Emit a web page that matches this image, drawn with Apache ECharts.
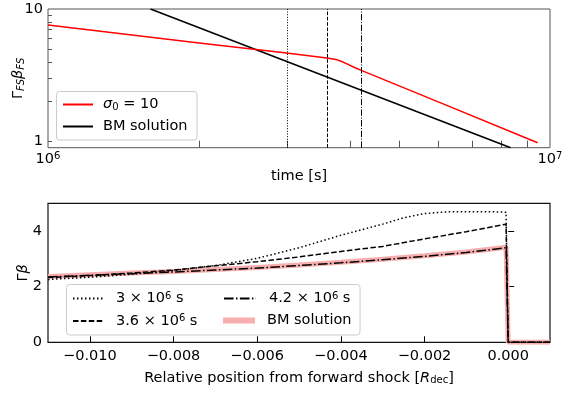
<!DOCTYPE html>
<html><head><meta charset="utf-8">
<script src="https://cdn.jsdelivr.net/npm/echarts@6/dist/echarts.min.js"></script>
<style>html,body{margin:0;padding:0;background:#fff}#c{width:565px;height:394px}</style>
</head><body><div id="c"></div>
<script>
// ---------- top panel data ----------
const sigmaTimes  = [1e6, 2e6, 2.9e6, 3.4e6, 3.62e6, 3.7e6, 3.78e6, 3.87e6, 3.96e6, 4.08e6, 4.22e6, 6.04e6, 9.45e6];
const sigmaValues = [7.56, 5.55, 4.71, 4.39, 4.26, 4.2, 4.12, 3.98, 3.82, 3.62, 3.43, 1.97, 0.98];
const bmTimes  = [1.6e6, 8.35e6];
const bmValues = [10, 0.9];
const markerTimes = [3e6, 3.6e6, 4.2e6];
const topXLabels = [1e6, 1e7];
const topXMinor = [2e6, 3e6, 4e6, 5e6, 6e6, 7e6, 8e6, 9e6];
const topYLabels = [1, 10];
const topYTicks = [1, 2, 3, 4, 5, 6, 7, 8, 9];

// ---------- bottom panel data ----------
const pos3    = [-0.011, -0.010, -0.009, -0.008, -0.007, -0.006, -0.005, -0.004, -0.003, -0.0025, -0.002, -0.0015, -0.001, -0.0005, -0.00005, 0, 0.001];
const val3    = [2.26, 2.34, 2.45, 2.58, 2.76, 3.02, 3.40, 3.85, 4.25, 4.48, 4.63, 4.69, 4.70, 4.70, 4.68, 0, 0];
const pos36   = [-0.011, -0.010, -0.009, -0.008, -0.007, -0.006, -0.005, -0.004, -0.003, -0.002, -0.001, -0.00005, 0, 0.001];
const val36   = [2.33, 2.40, 2.49, 2.60, 2.75, 2.90, 3.07, 3.27, 3.45, 3.72, 3.98, 4.25, 0, 0];
const pos42   = [-0.011, -0.010, -0.009, -0.008, -0.007, -0.006, -0.005, -0.004, -0.003, -0.002, -0.001, -0.00005, 0, 0.001];
const val42   = [2.35, 2.41, 2.47, 2.53, 2.60, 2.67, 2.76, 2.86, 2.97, 3.09, 3.23, 3.40, 0, 0];
const posBM   = [-0.011, -0.010, -0.009, -0.008, -0.007, -0.006, -0.005, -0.004, -0.003, -0.002, -0.001, -0.00005, 0, 0.001];
const valBM   = [2.37, 2.43, 2.49, 2.55, 2.62, 2.69, 2.78, 2.88, 2.99, 3.11, 3.25, 3.42, 0, 0];
const botXTicks = [-0.010, -0.008, -0.006, -0.004, -0.002, 0];
const botYTicks = [0, 2, 4];
const botNames = ['3 × 10^6 s', '3.6 × 10^6 s', '4.2 × 10^6 s', 'BM solution '];

const zip = (a, b) => a.map((v, i) => [v, b[i]]);
const F = 'DejaVu Sans';
const FS = 14.5;
const richCommon = {
  sup: {fontFamily: F, fontSize: 10, verticalAlign: 'top', lineHeight: 7, color: '#000'},
  sub: {fontFamily: F, fontSize: 10, verticalAlign: 'bottom', lineHeight: 8, color: '#000'},
  isub: {fontFamily: F, fontSize: 10, fontStyle: 'italic', verticalAlign: 'bottom', lineHeight: 8, color: '#000'},
  it: {fontFamily: F, fontSize: FS, fontStyle: 'italic', color: '#000'},
  n: {fontFamily: F, fontSize: FS, color: '#000'}
};

const chart = echarts.init(document.getElementById('c'), null, {renderer: 'canvas'});
const dotted = [1.5, 2.5], dashed = [5.5, 2.4], dashdot = [9.6, 2.4, 1.5, 2.4];
const legText = {fontFamily: F, fontSize: FS, color: '#000', rich: richCommon};
const botFmt = n => n.trim().replace('^6', '{sup|6}');

chart.setOption({
  animation: false,
  backgroundColor: '#fff',
  textStyle: {fontFamily: F},
  grid: [
    {left: 48, top: 9, width: 502, height: 138.7, show: true, borderColor: '#555', borderWidth: 1, outerBoundsMode: 'none', containLabel: false},
    {left: 48, top: 203.3, width: 502, height: 139, show: true, borderColor: '#111', borderWidth: 1.2, outerBoundsMode: 'none', containLabel: false}
  ],
  xAxis: [
    {type: 'log', gridIndex: 0, logBase: 10, min: 1e6, max: 1e7,
     axisLine: {show: false}, splitLine: {show: false},
     axisTick: {inside: true, length: 7, customValues: topXMinor, lineStyle: {color: '#555'}},
     axisLabel: {customValues: topXLabels, margin: 4, color: '#000', fontFamily: F, fontSize: FS,
       formatter: v => v > 5e6 ? '10{sup|7}' : '10{sup|6}', rich: richCommon},
     name: 'time [s]', nameLocation: 'middle', nameGap: 21, nameMoveOverlap: false,
     nameTextStyle: {fontFamily: F, fontSize: FS, color: '#000'}},
    {type: 'value', gridIndex: 1, min: -0.011, max: 0.001,
     axisLine: {show: false}, splitLine: {show: false},
     axisTick: {inside: true, length: 6, customValues: botXTicks, lineStyle: {color: '#000'}},
     axisLabel: {customValues: botXTicks, margin: 6, color: '#000', fontFamily: F, fontSize: FS,
       formatter: v => (v < -1e-9 ? '\u2212' : '') + Math.abs(v).toFixed(3)},
     name: 'Relative position from forward shock [{it|R}{sub|dec}]', nameLocation: 'middle', nameGap: 28, nameMoveOverlap: false,
     nameTextStyle: {fontFamily: F, fontSize: FS, color: '#000', rich: richCommon}}
  ],
  yAxis: [
    {type: 'log', gridIndex: 0, logBase: 10, min: 0.9, max: 10,
     axisLine: {show: false}, splitLine: {show: false},
     axisTick: {inside: true, length: 4, customValues: topYTicks, lineStyle: {color: '#555'}},
     axisLabel: {customValues: topYLabels, margin: 5, color: '#000', fontFamily: F, fontSize: FS,
       formatter: v => v > 5 ? '10' : '1'},
     name: '{n|Γ}{isub|FS}{it|β}{isub|FS}', nameLocation: 'middle', nameGap: 22, nameMoveOverlap: false,
     nameTextStyle: {fontFamily: F, fontSize: FS, color: '#000', rich: richCommon}},
    {type: 'value', gridIndex: 1, min: 0, max: 5,
     axisLine: {show: false}, splitLine: {show: false},
     axisTick: {inside: true, length: 6, customValues: botYTicks, lineStyle: {color: '#000'}},
     axisLabel: {customValues: botYTicks, margin: 6, color: '#000', fontFamily: F, fontSize: FS},
     name: '{n|Γ}{it|β}', nameLocation: 'middle', nameGap: 17, nameMoveOverlap: false,
     nameTextStyle: {fontFamily: F, fontSize: FS, color: '#000', rich: richCommon}}
  ],
  legend: [
    {data: ['σ0', 'BM solution'], orient: 'vertical', left: 62, top: 97, itemWidth: 30, itemHeight: 14, itemGap: 7,
     padding: 0, itemStyle: {opacity: 0},
     textStyle: Object.assign({padding: [0, 0, 0, 5]}, legText),
     formatter: n => n === 'σ0' ? '{it|σ}{sub|0} = 10' : n},
    {data: [botNames[0], botNames[1]], orient: 'vertical', left: 72, top: 291, itemWidth: 30, itemHeight: 14, itemGap: 7.5,
     padding: 0, itemStyle: {opacity: 0},
     textStyle: Object.assign({padding: [0, 0, 0, 8]}, legText), formatter: botFmt},
    {data: [botNames[2]], orient: 'vertical', left: 223, top: 291, itemWidth: 32, itemHeight: 14,
     padding: 0, itemStyle: {opacity: 0},
     textStyle: Object.assign({padding: [0, 0, 0, 8]}, legText), formatter: botFmt},
    {data: [botNames[3]], orient: 'vertical', left: 220, top: 313, itemWidth: 32, itemHeight: 14,
     padding: 0, itemStyle: {opacity: 0}, lineStyle: {width: 6},
     textStyle: Object.assign({padding: [0, 0, 0, 7]}, legText), formatter: botFmt}
  ],
  graphic: [
    {type: 'rect', z: 3, shape: {x: 56.5, y: 91.5, width: 140.5, height: 48.5, r: 3},
     style: {fill: 'rgba(255,255,255,0.8)', stroke: '#ccc', lineWidth: 1}},
    {type: 'rect', z: 3, shape: {x: 66.5, y: 284.5, width: 293.5, height: 50.5, r: 3},
     style: {fill: 'rgba(255,255,255,0.8)', stroke: '#ccc', lineWidth: 1}}
  ],
  series: [
    {name: 'σ0', type: 'line', xAxisIndex: 0, yAxisIndex: 0, data: zip(sigmaTimes, sigmaValues),
     symbol: 'none', showSymbol: false, color: '#ff0000', lineStyle: {color: '#ff0000', width: 1.5}, z: 3},
    {name: 'BM solution', type: 'line', xAxisIndex: 0, yAxisIndex: 0, data: zip(bmTimes, bmValues),
     symbol: 'none', showSymbol: false, color: '#000', lineStyle: {color: '#000', width: 1.5}, z: 2,
     markLine: {silent: true, symbol: ['none', 'none'], label: {show: false},
       data: [
         {xAxis: markerTimes[0], lineStyle: {type: [1, 1.65], color: '#000', width: 1}},
         {xAxis: markerTimes[1], lineStyle: {type: [3.7, 1.6], color: '#000', width: 1}},
         {xAxis: markerTimes[2], lineStyle: {type: [6.4, 1.6, 1, 1.6], color: '#000', width: 1}}
       ]}},
    {name: botNames[3], type: 'line', xAxisIndex: 1, yAxisIndex: 1, data: zip(posBM, valBM),
     symbol: 'none', showSymbol: false, color: '#f7aeae', lineStyle: {color: '#f7aeae', width: 5}, z: 1},
    {name: botNames[0], type: 'line', xAxisIndex: 1, yAxisIndex: 1, data: zip(pos3, val3),
     symbol: 'none', showSymbol: false, color: '#000', lineStyle: {color: '#000', width: 1.5, type: dotted}, z: 2},
    {name: botNames[1], type: 'line', xAxisIndex: 1, yAxisIndex: 1, data: zip(pos36, val36),
     symbol: 'none', showSymbol: false, color: '#000', lineStyle: {color: '#000', width: 1.5, type: dashed}, z: 2},
    {name: botNames[2], type: 'line', xAxisIndex: 1, yAxisIndex: 1, data: zip(pos42, val42),
     symbol: 'none', showSymbol: false, color: '#000', lineStyle: {color: '#000', width: 1.5, type: dashdot}, z: 2}
  ]
});
</script></body></html>
